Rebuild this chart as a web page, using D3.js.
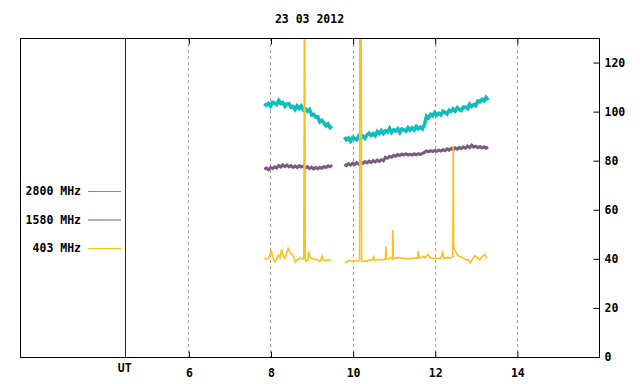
<!DOCTYPE html>
<html>
<head>
<meta charset="utf-8">
<script src="https://cdn.jsdelivr.net/npm/d3@7/dist/d3.min.js"></script>
<style>
  body { margin: 0; background: #fff; }
  text { font-family: "DejaVu Sans Mono", monospace; font-weight: bold; font-size: 11.5px; fill: #000; }
</style>
</head>
<body>
<svg id="chart"></svg>
<script>
const width = 640;
const height = 384;
const margin = { top: 38, right: 41, bottom: 27, left: 20 };
const innerWidth = width - margin.left - margin.right;
const innerHeight = height - margin.top - margin.bottom;

const title = "23 03 2012";
const xTicks = [6, 8, 10, 12, 14];
const yTicks = [0, 20, 40, 60, 80, 100, 120];
const utMark = 4.45;
const sampleStep = 0.05;

// 2800 MHz, two segments of regular samples
const cyanStart = [7.85, 9.8];
const cyan1 = [103.3, 102.6, 103.3, 102.3, 103.8, 103.5, 102.9, 104.5, 103.3, 103.7, 102.2, 103.1, 103.2, 101.8,
  102.1, 100.9, 102.3, 101.3, 102.3, 100.7, 101.2, 100.2, 100.9, 98.7, 98.9, 97.8, 97.9, 95.8, 96.4, 95.4, 94.2,
  95.0, 93.5, 94.1];
const cyan2 = [89.6, 88.5, 89.2, 88.0, 89.5, 89.0, 88.5, 90.1, 89.2, 90.0, 89.1, 90.5, 91.2, 90.3, 91.0, 90.2, 91.9,
  91.1, 92.3, 91.1, 92.2, 91.7, 93.1, 91.5, 92.6, 92.1, 93.0, 91.5, 92.9, 92.6, 92.0, 93.4, 92.5, 93.4, 92.5, 93.9,
  93.0, 93.7, 92.9, 94.8, 98.1, 97.4, 98.9, 98.3, 99.7, 98.6, 99.3, 98.7, 100.2, 99.7, 99.0, 100.5, 100.1, 101.1,
  100.2, 101.6, 100.9, 100.5, 101.9, 101.8, 101.2, 103.0, 102.1, 102.9, 102.4, 104.3, 104.0, 105.0, 104.4, 105.8,
  104.7];

// 1580 MHz
const purpleStart = [7.85, 9.8];
const purple1 = [76.5, 77, 76.3, 77.2, 76.8, 77.5, 77, 78, 77.4, 78.3, 77.6, 78.2, 77.5, 78, 77.3, 77.8, 77.2, 78,
  77.4, 77.8, 77, 77.6, 76.8, 77.4, 76.6, 77.2, 76.7, 77.3, 76.9, 77.6, 77.2, 77.9, 77.5, 78.2];
const purple2 = [78.5, 78, 78.8, 78.2, 79, 78.4, 79.2, 78.6, 79.4, 78.9, 79.6, 79.1, 79.8, 79.3, 80, 79.5, 80.2, 79.7,
  80.4, 80, 81.4, 81, 81.8, 81.4, 82.2, 81.8, 82.5, 82.1, 82.7, 82.3, 82.8, 82.3, 82.7, 82.3, 82.8, 82.4, 82.9,
  82.5, 83, 83.4, 84, 83.6, 84.1, 83.7, 84.2, 83.8, 84.3, 83.9, 84.5, 84.1, 84.8, 84.3, 85, 84.5, 85.2, 84.7, 85.4,
  84.9, 85.6, 85.1, 86, 85.3, 86.3, 85.5, 85.9, 85.3, 85.8, 85.2, 85.7, 85.1, 85.5];

// 403 MHz, [UT hour, flux]
const orange1 = [[7.85, 40.3], [7.9, 39.8], [7.96, 40.5], [8.0, 42], [8.02, 43.5], [8.05, 41], [8.08, 39.5], [8.11, 38.8],
  [8.15, 40], [8.19, 41.5], [8.23, 40.5], [8.27, 43.8], [8.31, 41], [8.35, 40.2], [8.39, 42], [8.43, 44.2], [8.47, 43],
  [8.51, 42], [8.55, 41.5], [8.58, 40], [8.61, 38.6], [8.65, 39.5], [8.69, 40], [8.73, 40.3], [8.77, 40], [8.81, 40],
  [8.82, 95], [8.83, 200], [8.845, 40.5], [8.87, 39], [8.91, 39.2], [8.93, 43], [8.96, 40.5], [9.01, 40], [9.05, 40.2],
  [9.1, 39.6], [9.14, 39.8], [9.18, 38.9], [9.22, 39.3], [9.26, 41], [9.28, 39.5], [9.34, 39.3], [9.4, 39.6], [9.48, 39.4]];
const orange2 = [[9.81, 38.4], [9.85, 38.6], [9.9, 39.2], [9.96, 39.3], [10.02, 39], [10.08, 39.2], [10.13, 39],
  [10.17, 39.5], [10.18, 200], [10.19, 200], [10.2, 200], [10.22, 39], [10.27, 38.9], [10.31, 39.2], [10.35, 39],
  [10.4, 39.6], [10.43, 39.3], [10.48, 39.6], [10.51, 40.8], [10.53, 39.5], [10.58, 39.6], [10.63, 39.7], [10.7, 39.6],
  [10.76, 39.8], [10.8, 39.7], [10.81, 45], [10.82, 39.8], [10.88, 40], [10.94, 40.5], [10.97, 40], [10.98, 51.8],
  [10.99, 40.2], [11.05, 40.4], [11.12, 40.6], [11.2, 40.2], [11.28, 40.2], [11.36, 40], [11.44, 40.3], [11.52, 40.2],
  [11.58, 40.4], [11.6, 43.2], [11.62, 40.3], [11.68, 40.6], [11.72, 41], [11.76, 40.4], [11.8, 41.2], [11.84, 41.7],
  [11.88, 40.5], [11.95, 40.2], [12.02, 40.3], [12.09, 40.1], [12.15, 40.3], [12.19, 42.5], [12.22, 40.2], [12.3, 40.5],
  [12.38, 40.4], [12.44, 40.8], [12.45, 86], [12.46, 44.5], [12.5, 43.5], [12.53, 42.2], [12.58, 41.2], [12.65, 40.8],
  [12.7, 40.2], [12.76, 39.5], [12.81, 39.8], [12.87, 38.5], [12.92, 40], [12.98, 41.2], [13.04, 40.5], [13.1, 39.5],
  [13.16, 41], [13.22, 41.8], [13.25, 40.6], [13.28, 40.4]];

const legendLabels = ["2800 MHz", "1580 MHz", "403 MHz"];
const colors = ["#0fbfbf", "#7a5a80", "#ffbf1a"];

function toPoints(start, values) {
  return values.map((v, i) => [start + i * sampleStep, v]);
}

const series = [
  { color: colors[0], width: 3.6, segments: [toPoints(cyanStart[0], cyan1), toPoints(cyanStart[1], cyan2)] },
  { color: colors[1], width: 3, segments: [toPoints(purpleStart[0], purple1), toPoints(purpleStart[1], purple2)] },
  { color: colors[2], width: 1.6, segments: [orange1, orange2] }
];

const svg = d3.select("#chart").attr("width", width).attr("height", height);
svg.append("rect").attr("width", width).attr("height", height).attr("fill", "#fff");

const root = svg.append("g").attr("transform", `translate(${margin.left},${margin.top})`);

const x = d3.scaleLinear().domain([1.9, 16]).range([0, innerWidth]);
const y = d3.scaleLinear().domain([0, 130]).range([innerHeight, 0]);

svg.append("text")
  .attr("x", margin.left + innerWidth / 2)
  .attr("y", 23)
  .attr("text-anchor", "middle")
  .text(title);

// dashed hour grid
root.append("g")
  .selectAll("line")
  .data(xTicks)
  .join("line")
  .attr("x1", (d) => Math.round(x(d)) + 0.5)
  .attr("x2", (d) => Math.round(x(d)) + 0.5)
  .attr("y1", 0)
  .attr("y2", innerHeight)
  .attr("stroke", "#a0a0a0")
  .attr("stroke-dasharray", "3,3");

// UT marker
root.append("line")
  .attr("x1", Math.round(x(utMark)) + 0.5)
  .attr("x2", Math.round(x(utMark)) + 0.5)
  .attr("y1", 0)
  .attr("y2", innerHeight)
  .attr("stroke", "#900000");

root.append("defs").append("clipPath").attr("id", "clip")
  .append("rect").attr("width", innerWidth).attr("height", innerHeight);

const line = d3.line().x((d) => x(d[0])).y((d) => y(d[1]));
const plot = root.append("g").attr("clip-path", "url(#clip)");

series.forEach((s) => {
  plot.append("g")
    .selectAll("path")
    .data(s.segments)
    .join("path")
    .attr("d", line)
    .attr("fill", "none")
    .attr("stroke", s.color)
    .attr("stroke-width", s.width)
    .attr("stroke-linejoin", "miter");
});

// frame
root.append("rect")
  .attr("x", 0.5).attr("y", 0.5)
  .attr("width", innerWidth).attr("height", innerHeight)
  .attr("fill", "none").attr("stroke", "#000");

// axes: right (values) and bottom (hours), ticks pointing inward
root.append("g")
  .attr("transform", `translate(${innerWidth + 0.5},0)`)
  .call(d3.axisRight(y).tickValues(yTicks).tickSizeInner(-6).tickSizeOuter(0).tickPadding(5))
  .call((g) => g.select(".domain").remove())
  .call((g) => g.selectAll("line").attr("stroke", "#000"))
  .call((g) => g.selectAll("text").attr("font-family", null).attr("font-size", null));

root.append("g")
  .attr("transform", `translate(0.5,${innerHeight + 0.5})`)
  .call(d3.axisBottom(x).tickValues(xTicks).tickSizeInner(-6).tickSizeOuter(0).tickPadding(11))
  .call((g) => g.select(".domain").remove())
  .call((g) => g.selectAll("line").attr("stroke", "#000"))
  .call((g) => g.selectAll("text").attr("font-family", null).attr("font-size", null));

root.append("g")
  .attr("transform", "translate(0.5,0.5)")
  .call(d3.axisTop(x).tickValues(xTicks).tickSizeInner(-6).tickSizeOuter(0).tickFormat(""))
  .call((g) => g.select(".domain").remove())
  .call((g) => g.selectAll("line").attr("stroke", "#000"));

root.append("text")
  .attr("x", x(utMark))
  .attr("y", innerHeight + 15)
  .attr("text-anchor", "middle")
  .text("UT");

// legend
const legendItems = legendLabels.map((label, i) => ({ label, color: colors[i] }));
const legend = root.append("g").selectAll("g")
  .data(legendItems)
  .join("g")
  .attr("transform", (d, i) => `translate(0,${153 + i * 28.5})`);

legend.append("text")
  .attr("x", 61)
  .attr("y", 4)
  .attr("text-anchor", "end")
  .text((d) => d.label);

legend.append("line")
  .attr("x1", 68).attr("x2", 101)
  .attr("y1", 0.5).attr("y2", 0.5)
  .attr("stroke", (d) => d.color);
</script>
</body>
</html>
